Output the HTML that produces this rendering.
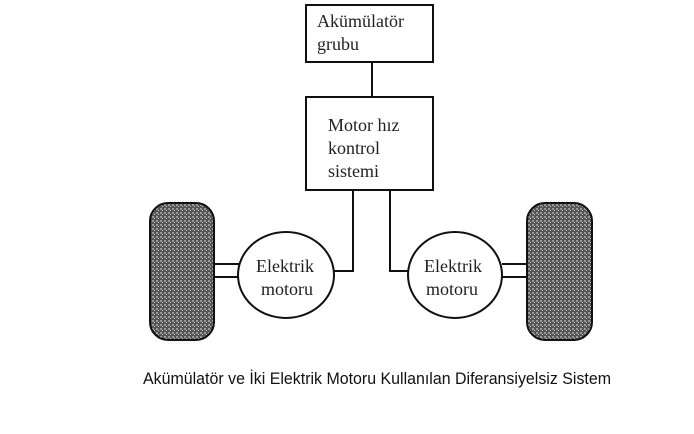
<!DOCTYPE html>
<html><head><meta charset="utf-8"><style>html,body{margin:0;padding:0;background:#fff;width:694px;height:434px;overflow:hidden}</style></head>
<body>
<svg width="694" height="434" viewBox="0 0 694 434" xmlns="http://www.w3.org/2000/svg">
<defs>
<pattern id="tread" width="4" height="4" patternUnits="userSpaceOnUse">
<rect width="4" height="4" fill="#555"/>
<rect x="0" y="0" width="2" height="2" fill="#999"/>
<rect x="2" y="2" width="1" height="1" fill="#ccc"/>
</pattern>
</defs>
<g stroke="#111" stroke-width="2" fill="none">
<rect x="306" y="5" width="127" height="57" fill="#fff"/>
<line x1="372" y1="62" x2="372" y2="97"/>
<rect x="306" y="97" width="127" height="93" fill="#fff"/>
<polyline points="353,190 353,271 334,271"/>
<polyline points="390,190 390,271 409,271"/>
<ellipse cx="286" cy="275" rx="48" ry="43" fill="#fff"/>
<ellipse cx="455" cy="275" rx="47" ry="43" fill="#fff"/>
<line x1="214" y1="264" x2="239" y2="264"/>
<line x1="214" y1="277" x2="239" y2="277"/>
<line x1="502" y1="264" x2="527" y2="264"/>
<line x1="502" y1="277" x2="527" y2="277"/>
<rect x="150" y="203" width="64" height="137" rx="18" fill="url(#tread)"/>
<rect x="527" y="203" width="65" height="137" rx="18" fill="url(#tread)"/>
</g>
<g font-family="Liberation Serif, serif" font-size="18" fill="#222">
<text x="317" y="27">Akümülatör</text>
<text x="317" y="50">grubu</text>
<text x="328" y="131">Motor hız</text>
<text x="328" y="154">kontrol</text>
<text x="328" y="177">sistemi</text>
<text x="256" y="272">Elektrik</text>
<text x="261" y="295">motoru</text>
<text x="424" y="272">Elektrik</text>
<text x="426" y="295">motoru</text>
</g>
<text x="143" y="384" font-family="Liberation Sans, sans-serif" font-size="17" fill="#111" textLength="468" lengthAdjust="spacingAndGlyphs">Akümülatör ve İki Elektrik Motoru Kullanılan Diferansiyelsiz Sistem</text>
</svg>
</body></html>
